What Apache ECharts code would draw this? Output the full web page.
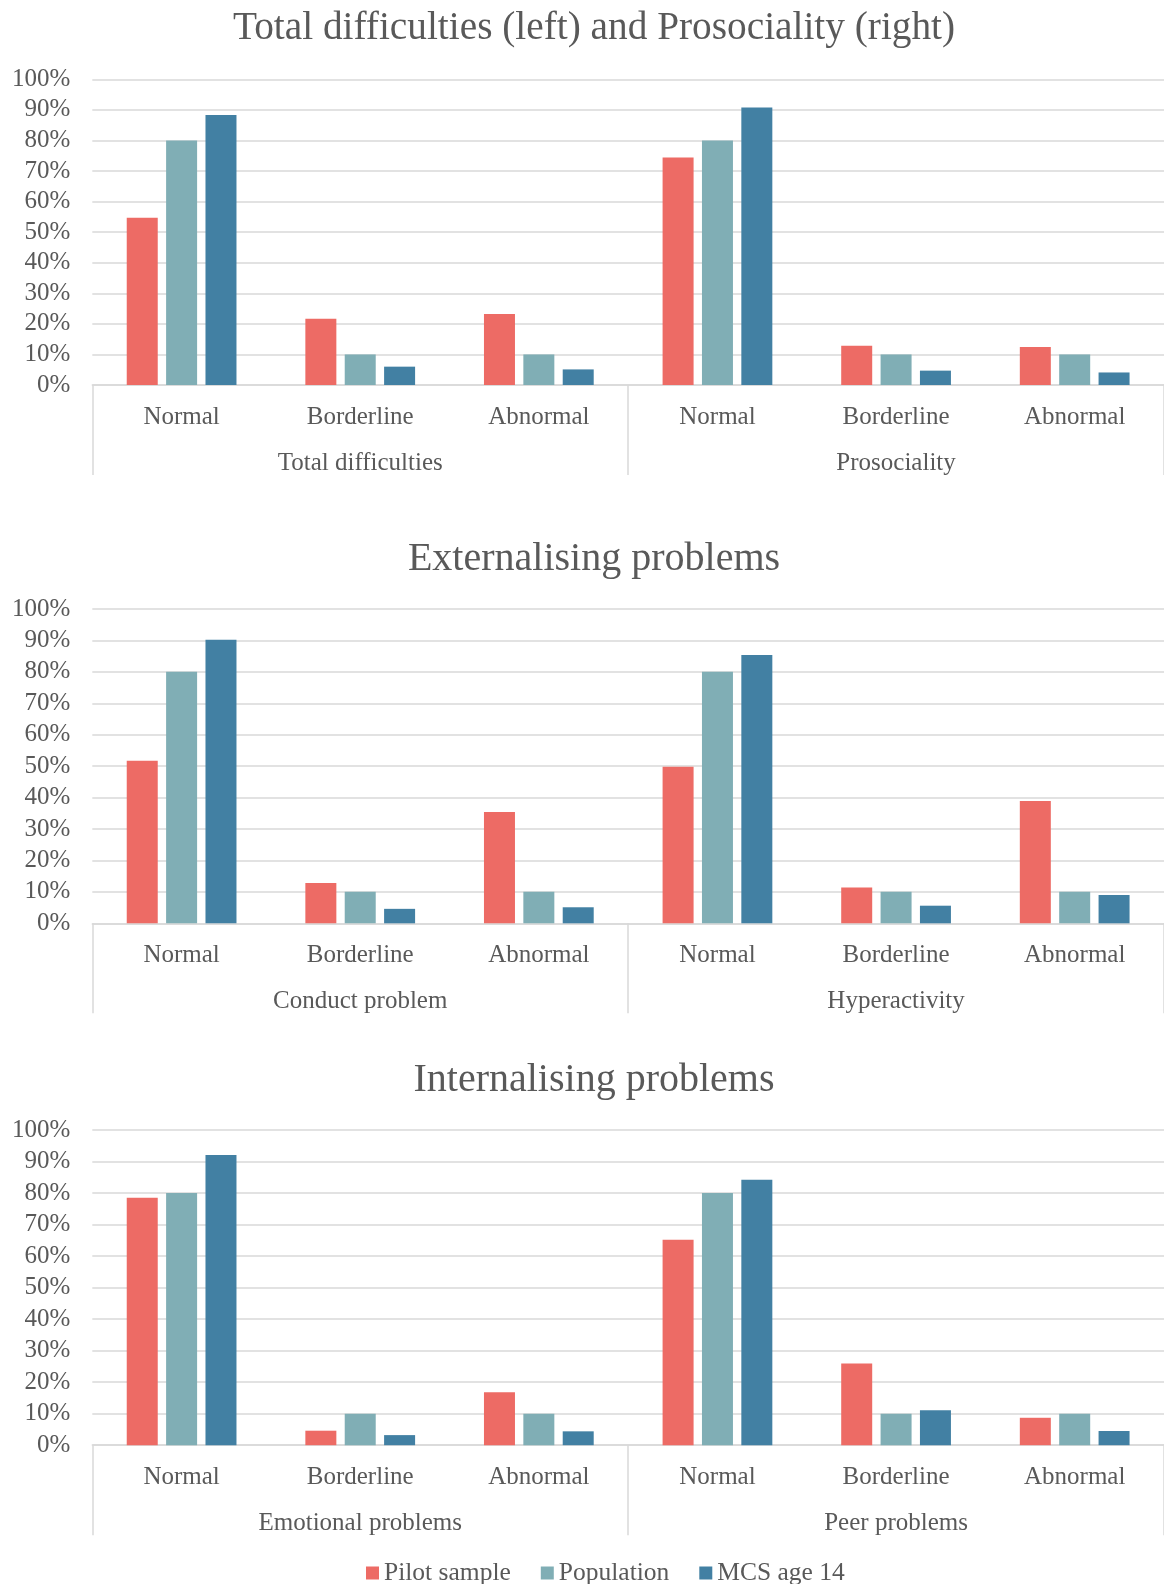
<!DOCTYPE html>
<html>
<head>
<meta charset="utf-8">
<script src="https://cdn.jsdelivr.net/npm/echarts@6/dist/echarts.min.js"></script>
<style>html,body{margin:0;padding:0;background:#fff}#c{width:1164px;height:1584px}</style>
</head>
<body>
<div id="c"></div>
<script>
// ---- data ----
const levels = ['Normal', 'Borderline', 'Abnormal'];
const titles = ['Total difficulties (left) and Prosociality (right)', 'Externalising problems', 'Internalising problems'];
const groups1 = ['Total difficulties', 'Prosociality'];
const groups2 = ['Conduct problem', 'Hyperactivity'];
const groups3 = ['Emotional problems', 'Peer problems'];
const seriesNames = ['Pilot sample', 'Population', 'MCS age 14'];
const yTicks = [0, 100, 10]; // min, max, interval (%)

const pilot1 = [54.7, 21.7, 23.2, 74.4, 12.8, 12.4];
const pop1   = [80, 10, 10, 80, 10, 10];
const mcs1   = [88.3, 6.0, 5.1, 90.8, 4.7, 4.1];

const pilot2 = [51.7, 12.8, 35.4, 49.8, 11.4, 38.9];
const pop2   = [80, 10, 10, 80, 10, 10];
const mcs2   = [90.2, 4.6, 5.1, 85.4, 5.6, 9.0];

const pilot3 = [78.5, 4.6, 16.8, 65.2, 25.9, 8.7];
const pop3   = [80, 10, 10, 80, 10, 10];
const mcs3   = [92.1, 3.2, 4.4, 84.2, 11.1, 4.5];

// ---- styling / layout ----
const FONT = 'Liberation Serif';
const TXT = '#595959';
const GRID = '#D9D9D9';
const colors = ['#ED6B65', '#80AEB5', '#4280A3'];

const panels = [
  {title: titles[0], groups: groups1, data: [pilot1, pop1, mcs1], top: 79.3, height: 305.7, titleTop: 4},
  {title: titles[1], groups: groups2, data: [pilot2, pop2, mcs2], top: 609, height: 314.3, titleTop: 534},
  {title: titles[2], groups: groups3, data: [pilot3, pop3, mcs3], top: 1130, height: 315.2, titleTop: 1055}
];

const option = {
  animation: false,
  backgroundColor: '#fff',
  textStyle: {fontFamily: FONT, color: TXT},
  title: [], grid: [], xAxis: [], yAxis: [], series: [],
  legend: {
    data: seriesNames, left: 361, top: 1555, itemWidth: 13, itemHeight: 13, itemGap: 30,
    icon: 'rect',
    textStyle: {fontFamily: FONT, fontSize: 25.5, color: TXT}
  }
};

panels.forEach((p, i) => {
  option.title.push({
    text: p.title, left: 589, top: p.titleTop, textAlign: 'center',
    textStyle: {fontFamily: FONT, fontSize: i === 0 ? 39.3 : 40, fontWeight: 'normal', color: TXT, lineHeight: 40}
  });
  option.grid.push({left: 92.3, width: 1080, top: p.top, height: p.height, containLabel: false});
  const cats = [];
  p.groups.forEach((g, gi) => levels.forEach(l => cats.push(l + '#' + gi)));
  option.xAxis.push({
    type: 'category', gridIndex: i, data: cats, position: 'bottom',
    axisLine: {show: true, lineStyle: {color: GRID, width: 1.5}},
    axisTick: {show: false},
    axisLabel: {interval: 0, margin: 19.5, fontFamily: FONT, fontSize: 25, color: TXT,
      formatter: v => v.split('#')[0]}
  });
  option.xAxis.push({
    type: 'category', gridIndex: i, data: p.groups, position: 'bottom',
    axisLine: {show: false},
    axisTick: {show: true, length: 90, interval: 0, lineStyle: {color: GRID, width: 1.5}},
    axisLabel: {interval: 0, margin: 65.5, fontFamily: FONT, fontSize: 25, color: TXT}
  });
  option.yAxis.push({
    type: 'value', gridIndex: i, min: yTicks[0], max: yTicks[1], interval: yTicks[2],
    axisLine: {show: false}, axisTick: {show: false},
    splitLine: {show: true, lineStyle: {color: GRID, width: 1.5}},
    axisLabel: {formatter: '{value}%', margin: 22, fontFamily: FONT, fontSize: 25, color: TXT}
  });
  p.data.forEach((arr, si) => {
    option.series.push({
      name: seriesNames[si], type: 'bar', xAxisIndex: i * 2, yAxisIndex: i,
      data: arr, barWidth: 31, barGap: '27%',
      itemStyle: {color: colors[si]}
    });
  });
});

const chart = echarts.init(document.getElementById('c'), null, {renderer: 'canvas'});
chart.setOption(option);
</script>
</body>
</html>
